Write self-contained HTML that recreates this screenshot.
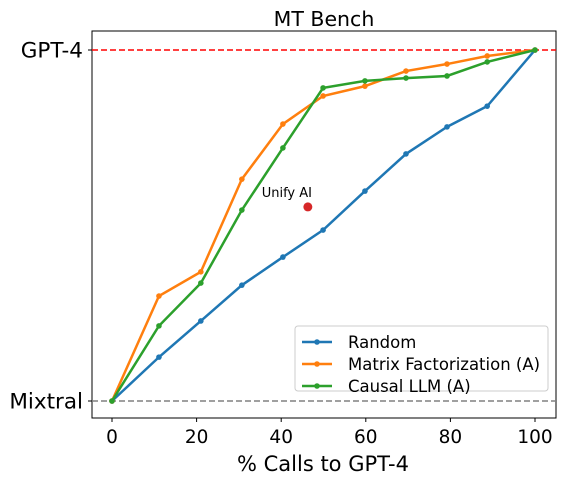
<!DOCTYPE html>
<html><head><meta charset="utf-8"><style>
body{margin:0;background:#fff;}
svg{font-family:"DejaVu Sans","Liberation Sans",sans-serif;}
</style></head><body>
<svg id="chart" width="566" height="484" xmlns="http://www.w3.org/2000/svg"></svg>
<script>
const xVals=[0,11.1,21,30.7,40.4,49.9,59.8,69.5,79.2,88.7,100];
const randomVals=[0,0.125,0.228,0.330,0.410,0.487,0.598,0.704,0.781,0.840,1];
const mfVals=[0,0.299,0.368,0.632,0.789,0.869,0.897,0.940,0.960,0.983,1];
const causalVals=[0,0.214,0.336,0.544,0.721,0.892,0.912,0.920,0.926,0.966,1];
const unifyPoint=[46.3,0.553];
const xTicks=[0,20,40,60,80,100];
const yTickLabels=["Mixtral","GPT-4"];
const NS="http://www.w3.org/2000/svg";
const svg=document.getElementById('chart');
const L=92,R=556,T=31,B=418;
const sx=v=>112+v*4.23, sy=v=>401-v*351;
function mk(tag,attrs,parent){const e=document.createElementNS(NS,tag);for(const k in attrs)e.setAttribute(k,attrs[k]);(parent||svg).appendChild(e);return e;}
const frame=mk('rect',{x:L,y:T,width:R-L,height:B-T,fill:'none',stroke:'#000','stroke-width':1});


const g1=mk('line',{x1:L,x2:R,y1:sy(1),y2:sy(1),stroke:'red','stroke-width':1.5,'stroke-dasharray':'6,3'});


const g0=mk('line',{x1:L,x2:R,y1:sy(0),y2:sy(0),stroke:'gray','stroke-width':1.5,'stroke-dasharray':'6,3'});


xTicks.forEach(t=>{
 const l=mk('line',{x1:sx(t),x2:sx(t),y1:B,y2:B+4,stroke:'#000'});
 
 
 const tx=mk('text',{x:sx(t),y:B+25,'text-anchor':'middle','font-size':18.5});
 tx.textContent=t;
 
 
});
yTickLabels.forEach((s,i)=>{
 const l=mk('line',{x1:L-4,x2:L,y1:sy(i),y2:sy(i),stroke:'#000'});
 
 
 const tx=mk('text',{x:L-9,y:sy(i)+7.5,'text-anchor':'end','font-size':21.5});
 tx.textContent=s;
 
 
});
const xt=mk('text',{x:323,y:471,'text-anchor':'middle','font-size':21});
xt.textContent='% Calls to GPT-4';


const tt=mk('text',{x:324,y:26,'text-anchor':'middle','font-size':20.5});
tt.textContent='MT Bench';


function series(vals,color,name){
 const p=mk('polyline',{points:xVals.map((x,i)=>sx(x)+','+sy(vals[i])).join(' '),fill:'none',stroke:color,'stroke-width':2.5});
 
 
 xVals.forEach((x,i)=>{
  const c=mk('circle',{cx:sx(x),cy:sy(vals[i]),r:2.8,fill:color});
  
  
 });
}
series(randomVals,'#1f77b4','random');
series(mfVals,'#ff7f0e','matrix-factorization');
series(causalVals,'#2ca02c','causal-llm');
const u=mk('circle',{cx:sx(unifyPoint[0]),cy:sy(unifyPoint[1]),r:4.5,fill:'#d62728'});


const ut=mk('text',{x:sx(unifyPoint[0])-21,y:sy(unifyPoint[1])-10,'text-anchor':'middle','font-size':13});
ut.textContent='Unify AI';


const lg=mk('g',{});


mk('rect',{x:295,y:326,width:253,height:65,rx:3,fill:'#fff','fill-opacity':0.8,stroke:'#ccc'},lg);
[['Random','#1f77b4'],['Matrix Factorization (A)','#ff7f0e'],['Causal LLM (A)','#2ca02c']].forEach((e,i)=>{
 const y=342+i*22;
 const ent=mk('g',{},lg);
 
 
 mk('line',{x1:302,x2:332,y1:y,y2:y,stroke:e[1],'stroke-width':2.5},ent);
 mk('circle',{cx:317,cy:y,r:2.8,fill:e[1]},ent);
 const t=mk('text',{x:348,y:y+6,'font-size':16.5},ent);
 t.textContent=e[0];
});
</script>
</body></html>
